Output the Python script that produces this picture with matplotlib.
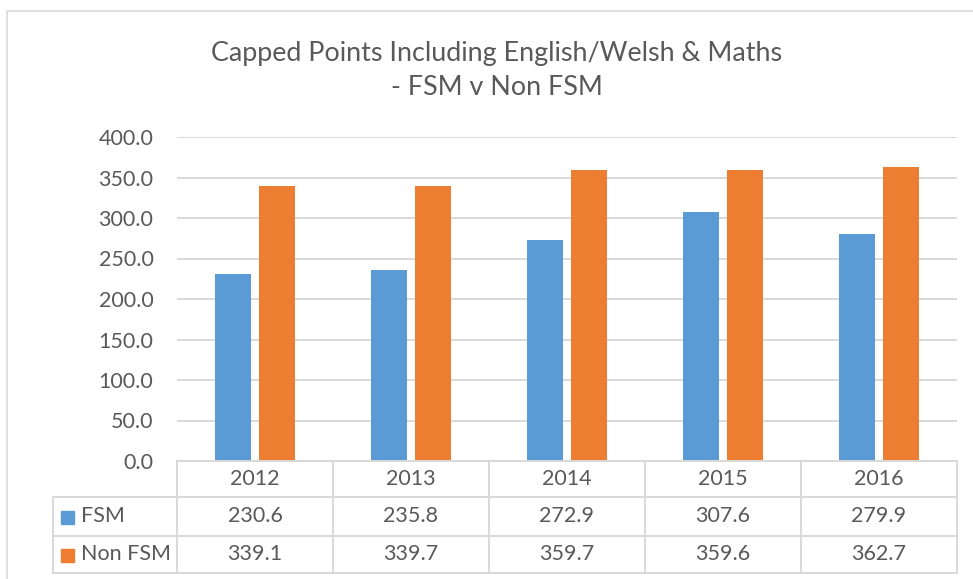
import matplotlib
matplotlib.use("Agg")
import matplotlib.pyplot as plt
from matplotlib.lines import Line2D
from matplotlib.patches import Rectangle
import numpy as np

years = ["2012", "2013", "2014", "2015", "2016"]
fsm = [230.6, 235.8, 272.9, 307.6, 279.9]
non_fsm = [339.1, 339.7, 359.7, 359.6, 362.7]
series_names = ["FSM", "Non FSM"]
colors = ["#5B9BD5", "#ED7D31"]
yticks = [0, 50, 100, 150, 200, 250, 300, 350, 400]

W, H = 973, 579
plt.rcParams['font.family'] = ['Lato', 'DejaVu Sans']
fig = plt.figure(figsize=(W / 100, H / 100), dpi=100)
TXT = "#595959"
GRID = "#D9D9D9"

def fx(px):
    return px / W

def fy(py):
    return 1 - py / H

# outer border
fig.patches.append(Rectangle((fx(7), fy(590)), fx(1000) - fx(7), fy(11) - fy(590),
                             transform=fig.transFigure, fill=False, edgecolor=GRID, lw=1.2))

L, R, T, B = 177, 957, 137, 461
ax = fig.add_axes([fx(L), fy(B), fx(R) - fx(L), fy(T) - fy(B)])
x = np.arange(len(years))
bw = 0.232
off = 0.141
ax.bar(x - off, fsm, bw, color=colors[0], zorder=3)
ax.bar(x + off, non_fsm, bw, color=colors[1], zorder=3)
ax.set_xlim(-0.5, len(years) - 0.5)
ax.set_ylim(0, 400)
ax.set_yticks(yticks)
ax.set_yticklabels([f"{v:.1f}" for v in yticks], fontsize=15.5, color=TXT)
ax.tick_params(axis='y', length=0, pad=17)
ax.set_xticks([])
ax.grid(axis='y', color=GRID, lw=1.4, zorder=0)
for s in ax.spines.values():
    s.set_visible(False)

# title
fig.text(fx(497), fy(53), "Capped Points Including English/Welsh & Maths", ha='center', va='center',
         fontsize=19.4, color=TXT)
fig.text(fx(497), fy(88), "- FSM v Non FSM", ha='center', va='center', fontsize=19.4, color=TXT)

# data table
rows_y = [461, 497, 536, 573]
left_col = 53
cat_w = (R - L) / len(years)
bounds = [L + i * cat_w for i in range(len(years) + 1)]

def hline(y, x0, x1):
    fig.add_artist(Line2D([fx(x0), fx(x1)], [fy(y), fy(y)], color=GRID, lw=1.4))

def vline(xp, y0, y1):
    fig.add_artist(Line2D([fx(xp), fx(xp)], [fy(y0), fy(y1)], color=GRID, lw=1.4))

hline(rows_y[0], L, R)
for y in rows_y[1:]:
    hline(y, left_col, R)
vline(left_col, rows_y[1], rows_y[3])
for b in bounds:
    vline(b, rows_y[0], rows_y[3])

fs = 15.5
for i, yr in enumerate(years):
    cx = (bounds[i] + bounds[i + 1]) / 2
    fig.text(fx(cx), fy((rows_y[0] + rows_y[1]) / 2), yr, ha='center', va='center', fontsize=fs, color=TXT)
    fig.text(fx(cx), fy((rows_y[1] + rows_y[2]) / 2), f"{fsm[i]:.1f}", ha='center', va='center', fontsize=fs, color=TXT)
    fig.text(fx(cx), fy((rows_y[2] + rows_y[3]) / 2), f"{non_fsm[i]:.1f}", ha='center', va='center', fontsize=fs, color=TXT)

for j, name in enumerate(series_names):
    cy = (rows_y[j + 1] + rows_y[j + 2]) / 2
    fig.patches.append(Rectangle((fx(61), fy(cy + 7)), fx(13), fy(0) - fy(13),
                                 transform=fig.transFigure, color=colors[j]))
    fig.text(fx(81), fy(cy), name, ha='left', va='center', fontsize=fs, color=TXT)

fig.savefig("out.png", dpi=100)
